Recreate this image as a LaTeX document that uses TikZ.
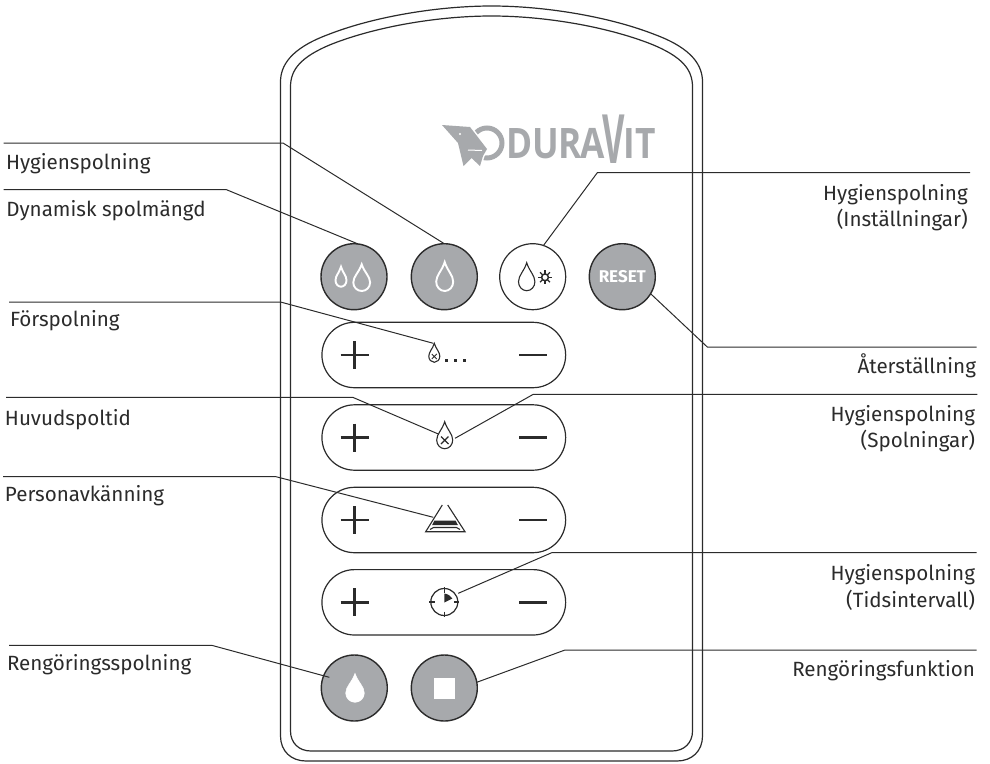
\documentclass[tikz,border=0pt]{standalone}
\usepackage{fontspec}
\setmainfont{Fira Sans}
\newfontfamily\logofont{Open Sans}
\definecolor{ink}{HTML}{2B2B2B}
\definecolor{btn}{HTML}{A7A9AC}
\def\dropunit{(0,0) .. controls (.3,.3) and (1,.45) .. (1,.68) .. controls (1,.86) and (.55,1) .. (0,1) .. controls (-.55,1) and (-1,.86) .. (-1,.68) .. controls (-1,.45) and (-.3,.3) .. (0,0) -- cycle}
% #1 options, #2 cx, #3 top, #4 half width, #5 height
\newcommand\dropmark[5]{\draw[#1,shift={(#2,#3)},xscale=#4,yscale=#5] \dropunit;}
\tikzset{
  shell/.style={draw=ink,line width=1.2pt},
  btnfill/.style={circle,draw=ink,fill=btn,line width=1.4pt,minimum size=66pt,inner sep=0pt,outer sep=0pt},
  btnopen/.style={circle,draw=ink,fill=white,line width=1.2pt,minimum size=66pt,inner sep=0pt,outer sep=0pt},
  pill/.style={draw=ink,line width=1.2pt,minimum width=243.7pt,minimum height=65.4pt,rounded corners=32.6pt,inner sep=0pt,outer sep=0pt},
  leader/.style={draw=ink,line width=1pt},
  lab/.style={inner sep=0pt,outer sep=0pt,text=ink,font=\fontsize{20.6}{22}\selectfont},
  labl/.style={lab,anchor=base west},
  labr/.style={lab,anchor=base east},
  sign/.style={draw=ink,line width=2.6pt},
  tiny/.style={draw=ink,line width=1.1pt}
}
\begin{document}
\begin{tikzpicture}[x=1pt,y=-1pt]
\useasboundingbox (0,0) rectangle (990,763);
% housing
\draw[shell] (280.5,82) .. controls (280.5,66) and (290,49) .. (327,35) .. controls (375,16) and (440,6) .. (491.5,6) .. controls (543,6) and (608,16) .. (656,35) .. controls (693,49) and (702.5,66) .. (702.5,82) -- (702.5,736) .. controls (702.5,751) and (692,761) .. (677,761) -- (306,761) .. controls (291,761) and (280.5,751) .. (280.5,736) -- cycle;
\draw[shell] (290.5,87) .. controls (290.5,70) and (300,57) .. (332,44) .. controls (378,26) and (440,16) .. (491.5,16) .. controls (543,16) and (605,26) .. (651,44) .. controls (683,57) and (692.5,70) .. (692.5,87) -- (692.5,731) .. controls (692.5,743) and (684,751) .. (672,751) -- (311,751) .. controls (299,751) and (290.5,743) .. (290.5,731) -- cycle;
% logo
\draw[btn,line width=5pt] (487,143) circle (15);
\path[fill=btn,draw=white,line width=3pt,line join=round] (442,125) -- (470,127) -- (487,149) -- (483,156) -- (480,166) -- (471.5,158) -- (463.5,166) -- (458,143) -- cycle;
\path[fill=btn] (442,125) -- (470,127) -- (487,149) -- (483,156) -- (480,166) -- (471.5,158) -- (463.5,166) -- (458,143) -- cycle;
\fill[white] (460,134) circle (1.2);
\draw[white,line width=1pt] (468,150) -- (482,150.5);
\node[inner sep=0pt,outer sep=0pt,anchor=base west,text=btn] (logo) at (506,158.5) {\logofont\bfseries\fontsize{42}{42}\selectfont\scalebox{.84}[1]{DUR\kern-2pt A\kern-3pt\raisebox{-4.5pt}{\scalebox{.98}[1.62]{V}}\kern-1pt IT}};
% buttons
\node[btnfill] (bDyn) at (354,276.7) {};
\node[btnfill] (bHyg) at (444.3,276.7) {};
\node[btnopen] (bSet) at (532.7,276.7) {};
\node[btnfill,text=white,font=\fontsize{17}{18}\selectfont\bfseries] (bRes) at (622.3,276.7) {RESET};
\node[btnfill] (bCln) at (354.3,688) {};
\node[btnfill] (bFun) at (444.3,688) {};
% pills
\node[pill] (p1) at (443.8,355) {};
\node[pill] (p2) at (443.8,437.5) {};
\node[pill] (p3) at (443.8,520) {};
\node[pill] (p4) at (443.8,602.3) {};
% plus / minus
\foreach \p/\yy in {p1/355,p2/437.5,p3/520,p4/602.3}{
  \draw[sign] (340.7,\yy) -- (368.7,\yy) (354.7,\yy-14) -- (354.7,\yy+14);
  \draw[sign] (519,\yy) -- (547,\yy);
}
% drop symbols
\dropmark{white,line width=1.9pt}{341}{266.7}{5.5}{20}
\dropmark{white,line width=1.9pt}{361.7}{264.3}{8.4}{26.7}
\dropmark{white,line width=1.9pt}{444.7}{262}{8.5}{29}
\dropmark{ink,line width=1.1pt}{526.7}{262.7}{8.2}{28}
\dropmark{fill=white,draw=white,line width=0.5pt}{355}{673.3}{9.3}{29}
\fill[white] (434,678) rectangle (455,698.7);
% sun
\draw[ink,line width=1.5pt] (545,277.3) circle (3.4);
\foreach \a in {0,45,...,315}{\draw[ink,line width=1.2pt] (545,277.3) ++(\a:3.4) -- ++(\a:3.6);}
% pre-flush symbol
\dropmark{tiny}{434.3}{343.3}{5.5}{19}
\draw[tiny,line width=.8pt] (431.8,354) -- (436.8,359) (436.8,354) -- (431.8,359);
\foreach \x in {446,455,464}{\fill[ink] (\x-1.5,358.5) rectangle (\x+1.5,361.5);}
% main flush symbol
\dropmark{tiny}{444.7}{421.7}{8}{27}
\draw[tiny] (441,436.5) -- (448.5,444) (448.5,436.5) -- (441,444);
% sensor symbol
\draw[tiny] (442.3,505) -- (425.7,531.7) -- (465,531.7) -- (447.7,505);
\draw[tiny] (430,529.5) -- (433.5,527.5) -- (456.5,527.5) -- (460,529.5);
\fill[ink] (434.5,520.5) -- (455.5,520.5) -- (458,525.2) -- (432,525.2) -- cycle;
% clock symbol
\node[circle,draw=ink,line width=1.2pt,minimum size=27pt,inner sep=0pt,outer sep=0pt] (clk) at (444.3,602) {};
\draw[tiny] (444.3,587) -- (444.3,592.5) (444.3,611.5) -- (444.3,617) (429.3,602) -- (434.8,602) (453.8,602) -- (459.3,602);
\fill[ink] (444.3,602.5) -- (444.3,593.5) .. controls (448,594) and (451,596) .. (452.3,598.5) -- cycle;
% labels
\node[labl] (tHyg) at (6,169.3) {Hygienspolning};
\node[labl] (tDyn) at (6.3,216.7) {Dynamisk spolmängd};
\node[labl] (tFor) at (10,326.7) {Förspolning};
\node[labl] (tHuv) at (5,425.3) {Huvudspoltid};
\node[labl] (tPer) at (5,501.7) {Personavkänning};
\node[labl] (tReg) at (7,670.7) {Rengöringsspolning};
\node[labr] (tSet) at (967.7,200.7) {Hygienspolning};
\node[labr] (tSet2) at (967.7,226.7) {(Inställningar)};
\node[labr] (tAte) at (976,373.3) {Återställning};
\node[labr] (tSpo) at (975,421.7) {Hygienspolning};
\node[labr] (tSpo2) at (975,447.7) {(Spolningar)};
\node[labr] (tTid) at (975,580) {Hygienspolning};
\node[labr] (tTid2) at (975,607.3) {(Tidsintervall)};
\node[labr] (tFun) at (975,676.7) {Rengöringsfunktion};
% leader anchors
\coordinate (lHyg) at (3.5,143);
\coordinate (lDyn) at (3.5,189.5);
\coordinate (lFor) at (9,302);
\coordinate (lHuv) at (6,397.3);
\coordinate (lPer) at (3,476.7);
\coordinate (lReg) at (9,645.3);
\coordinate (rSet) at (970,172.7);
\coordinate (rAte) at (976.7,347);
\coordinate (rSpo) at (977.3,394.3);
\coordinate (rTid) at (976.7,552.7);
\coordinate (rFun) at (976.7,650);
\coordinate (eFor) at (433.3,343.3);
\coordinate (eHuv) at (438.3,434);
\coordinate (eSpo) at (455,438.3);
\coordinate (ePer) at (433.3,517.3);
\coordinate (eTid) at (458.3,593.3);
\coordinate (eReg) at (329.3,677.3);
% leaders
\draw[leader] (lHyg) -- (283,143) -- (bHyg.north);
\draw[leader] (lDyn) -- (226,189.5) -- (bDyn.83);
\draw[leader] (lFor) -- (280.5,302) -- (eFor);
\draw[leader] (lHuv) -- (352.7,397.3) -- (eHuv);
\draw[leader] (lPer) -- (276,476.7) -- (ePer);
\draw[leader] (lReg) -- (211.7,645.3) -- (eReg);
\draw[leader] (rSet) -- (597.3,172.7) -- (bSet.71.5);
\draw[leader] (rAte) -- (707.3,347) -- (bRes.-31);
\draw[leader] (rSpo) -- (533.3,394.3) -- (eSpo);
\draw[leader] (rTid) -- (551.7,552.7) -- (eTid);
\draw[leader] (rFun) -- (565,650) -- (bFun.10);
\end{tikzpicture}
\end{document}
